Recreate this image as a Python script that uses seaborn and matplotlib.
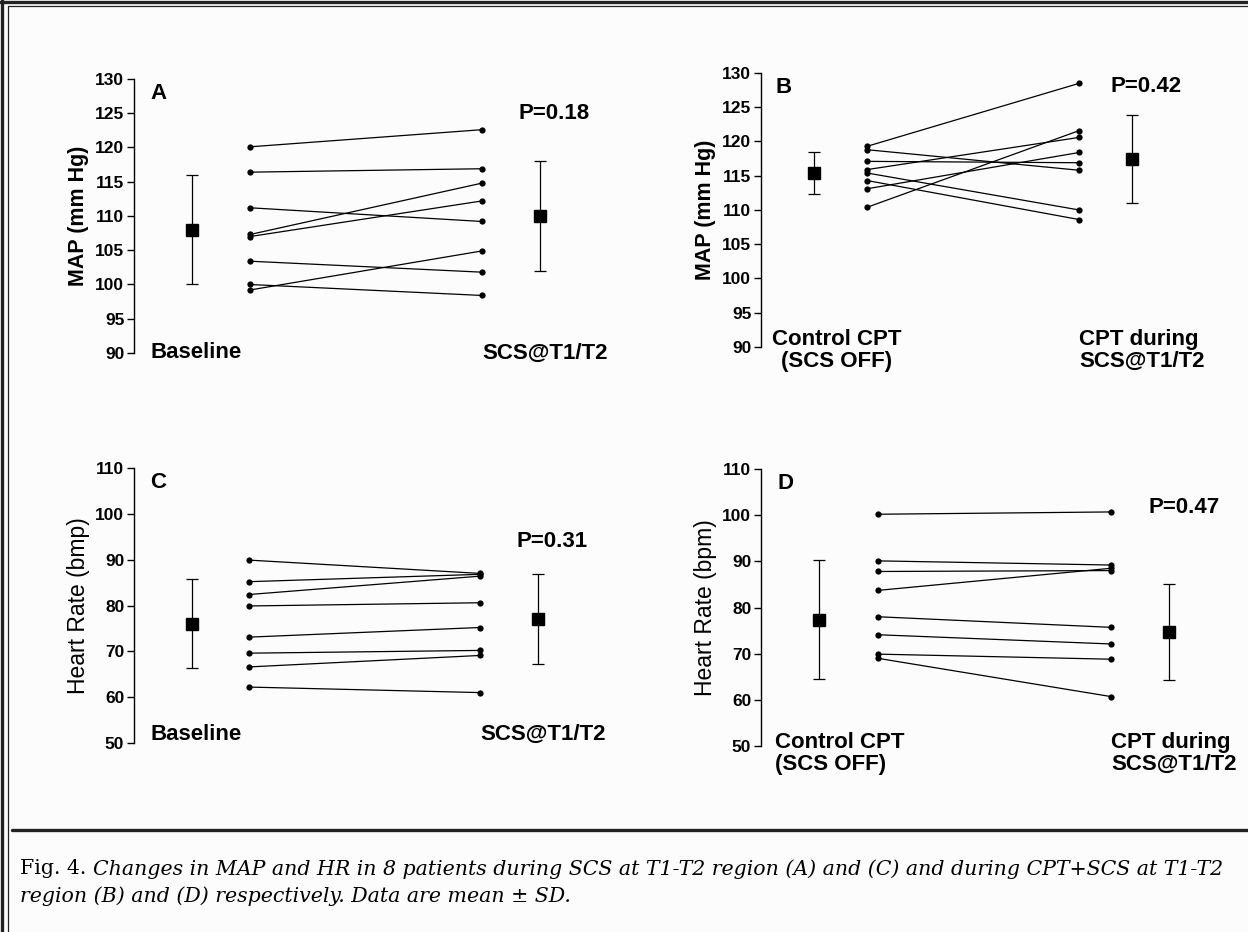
import numpy as np
import pandas as pd
import matplotlib
matplotlib.use("Agg")
import matplotlib.pyplot as plt
import seaborn as sns
from matplotlib.lines import Line2D

# paired values (8 patients)
map_baseline = [120.1, 116.4, 111.2, 107.3, 107.0, 103.4, 100.0, 99.2]
map_scs = [122.6, 116.9, 109.2, 114.8, 112.2, 101.8, 98.4, 104.9]
map_cpt_ctrl = [119.3, 118.8, 117.1, 115.9, 115.4, 114.3, 113.1, 110.4]
map_cpt_scs = [128.5, 115.8, 116.9, 120.6, 110.0, 108.6, 118.4, 121.6]
hr_baseline = [89.9, 85.2, 82.4, 79.9, 73.1, 69.6, 66.6, 62.2]
hr_scs = [87.0, 86.8, 86.4, 80.6, 75.2, 70.2, 69.1, 61.0]
hr_cpt_ctrl = [100.2, 90.1, 87.8, 83.7, 78.0, 74.1, 69.9, 69.0]
hr_cpt_scs = [100.7, 89.2, 88.0, 88.5, 75.7, 72.1, 68.8, 60.7]

# mean +/- SD markers
map_mean = [108.0, 110.0]
map_sd = [8.0, 8.0]
map_cpt_mean = [115.4, 117.4]
map_cpt_sd = [3.0, 6.4]
hr_mean = [76.0, 77.0]
hr_sd = [9.7, 9.8]
hr_cpt_mean = [77.4, 74.7]
hr_cpt_sd = [12.9, 10.4]

p_values = ["P=0.18", "P=0.42", "P=0.31", "P=0.47"]
map_ticks = list(range(90, 131, 5))
hr_ticks = list(range(50, 111, 10))

sns.set_style("ticks")
plt.rcParams['font.family'] = ['Liberation Sans', 'DejaVu Sans']
plt.rcParams.update({'text.color': 'black', 'axes.labelcolor': 'black',
                     'axes.edgecolor': 'black', 'ytick.color': 'black',
                     'xtick.color': 'black'})

W, H = 1248, 932
fig = plt.figure(figsize=(W / 100, H / 100), dpi=100, facecolor='#fcfcfd')

CAT = 16  # size of category / P text


def rect(left, top, bottom, width):
    return [left / W, 1 - bottom / H, width / W, (bottom - top) / H]


def panel(ax, before, after, means, sds, yticks, ylabel, label_bold, letter, ptext, p_y):
    df = pd.DataFrame({
        'subject': np.tile(np.arange(len(before)), 2),
        'pos': np.repeat([1, 5], len(before)),
        'value': before + after,
    })
    sns.lineplot(data=df, x='pos', y='value', units='subject', estimator=None,
                 color='black', lw=0.9, marker='o', markersize=4.5,
                 markeredgewidth=0, ax=ax, legend=False)
    ax.errorbar([0, 6], means, yerr=sds, fmt='s', color='black', ms=8.5,
                capsize=4.5, elinewidth=0.9, capthick=0.9)
    ax.set_xlim(-1.0, 7.5)
    ax.set_ylim(yticks[0], yticks[-1])
    ax.set_yticks(yticks)
    ax.set_xticks([])
    ax.set_xlabel('')
    ax.set_ylabel(ylabel, fontsize=16.5 if not label_bold else 15.5,
                  fontweight='bold' if label_bold else 'normal', labelpad=4)
    for s in ['top', 'right', 'bottom']:
        ax.spines[s].set_visible(False)
    ax.spines['left'].set_linewidth(1.0)
    ax.tick_params(axis='y', length=5, width=1.0, pad=2, labelsize=12.5)
    for t in ax.get_yticklabels():
        t.set_fontweight('bold')
    ax.set_facecolor('none')
    ax.text(0.033, 0.985, letter, transform=ax.transAxes, fontsize=16,
            fontweight='bold', va='top', ha='left')
    ax.text(6.25, p_y, ptext, fontsize=CAT, fontweight='bold',
            ha='center', va='center', clip_on=False)


axA = fig.add_axes(rect(134, 79, 353, 493))
panel(axA, map_baseline, map_scs, map_mean, map_sd, map_ticks,
      'MAP (mm Hg)', True, 'A', p_values[0], 125)
axA.text(-0.72, 90, 'Baseline', fontsize=CAT, fontweight='bold', ha='left', va='center')
axA.text(5, 90, 'SCS@T1/T2', fontsize=CAT, fontweight='bold', ha='left', va='center')

axB = fig.add_axes(rect(761, 73, 347, 451))
panel(axB, map_cpt_ctrl, map_cpt_scs, map_cpt_mean, map_cpt_sd, map_ticks,
      'MAP (mm Hg)', True, 'B', p_values[1], 128)
axB.text(0.42, 89.5, 'Control CPT\n(SCS OFF)', fontsize=CAT, fontweight='bold',
         ha='center', va='center', multialignment='center', linespacing=1.1)
axB.text(5, 89.5, 'CPT during\nSCS@T1/T2', fontsize=CAT, fontweight='bold',
         ha='left', va='center', linespacing=1.1, clip_on=False)

axC = fig.add_axes(rect(134, 468, 743, 490))
panel(axC, hr_baseline, hr_scs, hr_mean, hr_sd, hr_ticks,
      'Heart Rate (bmp)', False, 'C', p_values[2], 94)
axC.text(-0.72, 51.9, 'Baseline', fontsize=CAT, fontweight='bold', ha='left', va='center')
axC.text(5, 51.9, 'SCS@T1/T2', fontsize=CAT, fontweight='bold', ha='left', va='center')

axD = fig.add_axes(rect(761, 469, 746, 496))
panel(axD, hr_cpt_ctrl, hr_cpt_scs, hr_cpt_mean, hr_cpt_sd, hr_ticks,
      'Heart Rate (bpm)', False, 'D', p_values[3], 101.7)
axD.text(-0.76, 48.4, 'Control CPT\n(SCS OFF)', fontsize=CAT, fontweight='bold',
         ha='left', va='center', linespacing=1.1, clip_on=False)
axD.text(5, 48.4, 'CPT during\nSCS@T1/T2', fontsize=CAT, fontweight='bold',
         ha='left', va='center', linespacing=1.1, clip_on=False)

# frame lines
def fline(x0, y0, x1, y1, lw, color='#222222'):
    fig.add_artist(Line2D([x0 / W, x1 / W], [1 - y0 / H, 1 - y1 / H],
                          transform=fig.transFigure, lw=lw, color=color))

fline(2, 0, 2, H, 2.4)
fline(0, 2, W, 2, 2.4)
fline(8, 6, 8, H, 0.9)
fline(8, 6, W, 6, 0.9)
fline(12, 830, W, 830, 2.4)

# caption
serif = ['DejaVu Serif', 'Liberation Serif']
CAP = 14.8
t0 = fig.text(20 / W, 1 - 869 / H, 'Fig. 4. ', family=serif, fontsize=CAP, va='center')
fig.canvas.draw()
bb = t0.get_window_extent(renderer=fig.canvas.get_renderer())
fig.text(bb.x1 / W, 1 - 869 / H,
         'Changes in MAP and HR in 8 patients during SCS at T1-T2 region (A) and (C) and during CPT+SCS at T1-T2',
         family=serif, style='italic', fontsize=CAP, va='center')
fig.text(20 / W, 1 - 896 / H, 'region (B) and (D) respectively. Data are mean \u00b1 SD.',
         family=serif, style='italic', fontsize=CAP, va='center')

fig.savefig('out.png', dpi=100, facecolor=fig.get_facecolor())
